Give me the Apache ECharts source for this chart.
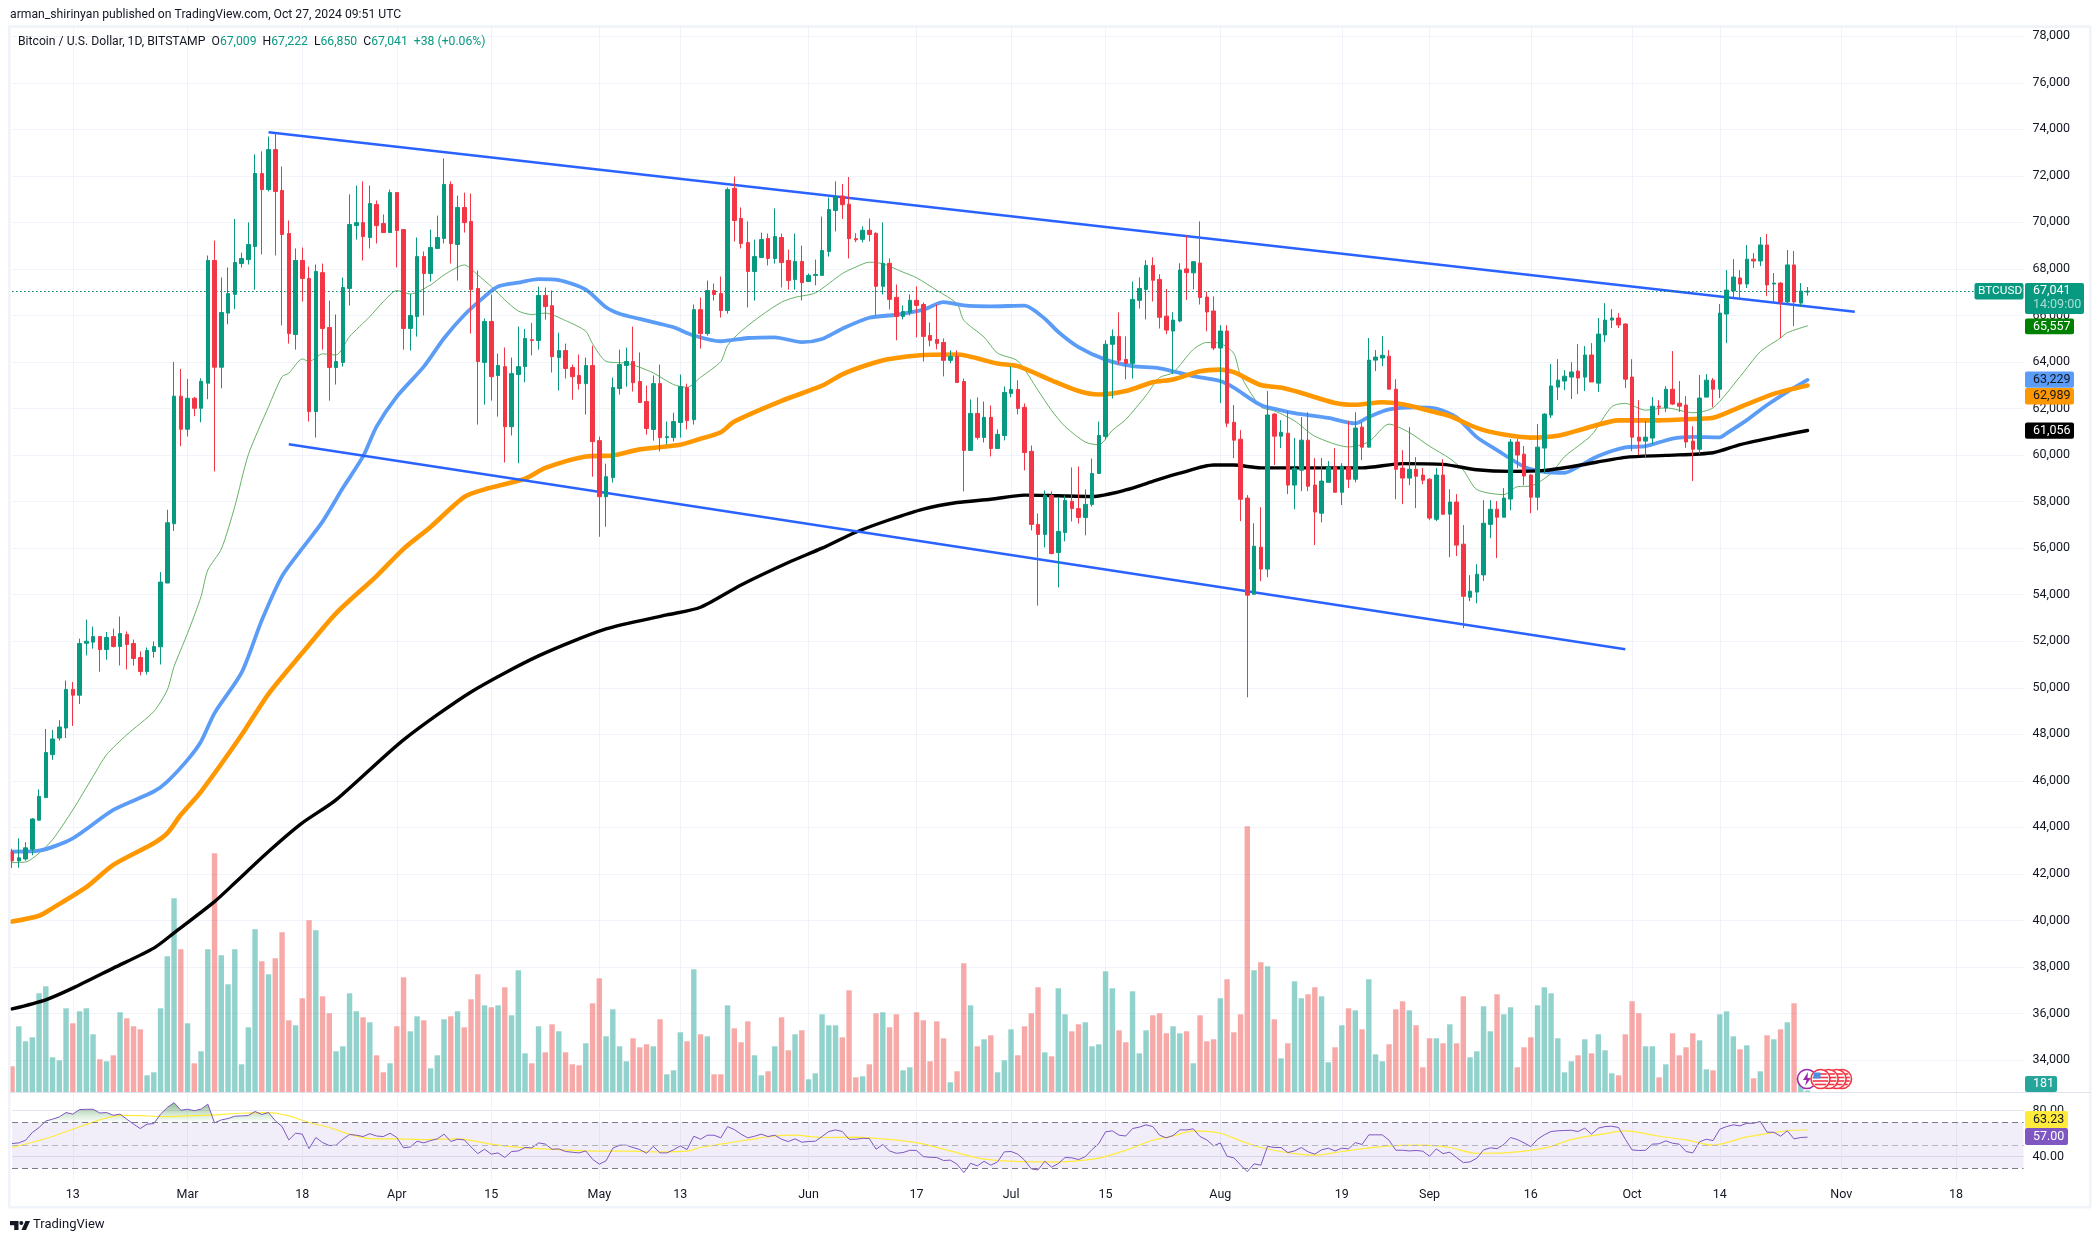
<!DOCTYPE html>
<html><head><meta charset="utf-8">
<script src="https://cdn.jsdelivr.net/npm/echarts@6/dist/echarts.min.js"></script>
<style>html,body{margin:0;padding:0;background:#fff}#c{width:2100px;height:1243px}</style>
</head><body><div id="c"></div>
<script>
// [open, close, low, high] per day, 2024-02-04 to 2024-10-27
const candles=[
[42950,42560,42250,43080],[42560,42690,42270,43530],[42640,43120,42570,43360],[43060,44360,42800,44400],[44310,45330,44300,45630],[45280,47215,45280,48230],[47125,47800,46900,48190],[47840,48310,47730,48610],[48270,49930,47840,50310],[49930,49680,48360,50250],[49680,51900,49300,52110],[51910,52000,51390,52930],[51960,52200,51680,52630],[52200,51640,50690,52220],[51640,52160,51210,52400],[52200,51770,51730,52540],[51770,52330,50960,53060],[52290,51860,50790,52420],[51900,51260,50950,52070],[51300,50700,50530,51560],[50700,51600,50570,51730],[51560,51770,51290,51990],[51760,54540,51000,54970],[54500,57090,54500,57650],[57050,62530,56740,64000],[62530,61110,60380,63700],
[61110,62440,60800,63270],[62440,62010,61670,62500],[62010,63170,61410,63300],[63090,68360,62400,68575],[68360,63775,59300,69220],[63775,66125,62870,67630],[66100,66940,65620,68060],[66910,68275,66270,70150],[68230,68450,68060,68700],[68400,69050,68190,70000],[68960,72100,67110,72920],[72100,71410,68620,73050],[71410,73130,71330,73690],[73130,71330,68575,73830],[71370,69480,65570,72400],[69520,65220,64790,70080],[65180,68360,64530,68880],[68360,67590,66600,68920],[67590,61870,61440,68100],[61870,67890,60750,68190],[67840,65440,64530,68230],[65480,63760,62340,66640],[63760,64020,63030,66040],[63980,67200,63800,67630],[67160,69910,66430,71200],[69860,69990,69260,71580],[69990,69390,68360,71760],[69350,70810,68880,71580],[70770,69860,69090,70940],[69950,69560,69560,70340],[69560,71280,69560,71410],
[71280,69650,68060,71300],[69690,65440,64530,69690],[65440,66000,64490,66930],[65950,68530,65090,69350],[68530,67800,66000,68750],[67800,68920,67460,69690],[68880,69350,68880,70290],[69310,71630,69090,72750],[71630,69090,68230,71760],[69050,70640,67500,71150],[70640,69990,69560,71280],[70040,67110,65220,71240],[67160,64020,61310,67930],[63980,65740,62170,65870],[65740,63370,62340,66900],[63420,63850,61650,64360],[63800,61220,59680,64620],[61220,63500,60840,64190],[63460,63800,59650,65520],[63800,65010,63130,65420],[64960,64920,64280,65680],[64920,66860,64530,67240],[66860,66380,65820,67200],[66420,64230,63550,67070],[64190,64490,62770,65260],[64490,63720,63290,64790],[63760,63370,62380,63890],[63420,63070,62810,64320],[63070,63850,61740,64190],[63850,60580,59070,64700],
[60620,58210,56490,60790],[58210,59070,56920,59630],[59030,62900,58820,63330],[62860,63890,62600,64530],[63850,64020,62940,64620],[64020,63110,62730,65520],[63160,62260,62260,64410],[62300,61140,60880,62990],[61100,63070,60620,63420],[63070,60750,60150,63890],[60750,60790,60450,61440],[60750,61440,60580,61820],[61400,62940,60750,63460],[62900,61480,61100,63070],[61520,66250,61310,66470],[66250,65220,64580,66770],[65220,67070,65130,67500],[67070,66900,66640,67370],[66940,66210,65910,67670],[66210,71410,66080,71500],[71460,70080,69180,71970],[70170,69090,68880,70640],[69130,67890,66340,70040],[67890,68530,66640,69260],[68490,69260,68490,69560],[69310,68450,68150,69520],[68450,69390,68230,70600],[69350,68270,67200,69520],[68360,67500,67110,68830],[67540,68320,67110,69520],[68320,67410,66640,69000],
[67460,67720,67460,67800],[67720,67760,67290,68400],[67720,68790,67720,70250],[68750,70550,68530,71070],[70510,71110,69610,71760],[71130,70760,70150,71650],[70780,69300,68450,71950],[69300,69250,69150,69530],[69270,69660,69140,69830],[69660,69480,69180,70170],[69530,67250,66000,69570],[67250,68240,66900,70000],[68240,66690,66260,68450],[66780,65960,64930,67330],[65960,66170,65830,66430],[66130,66650,66000,66900],[66650,66430,65060,67250],[66470,65100,64020,66560],[65140,64930,64670,65700],[64970,64800,64540,66470],[64840,64070,63380,65010],[64070,64240,63940,64500],[64240,63120,63120,64500],[63160,60200,58440,63290],[60200,61790,60200,62390],[61790,60760,60670,62480],[60760,61620,60540,62300],[61620,60280,59940,62130],[60280,60890,60280,61100],[60840,62690,60630,62950],
[62650,62820,62480,63810],[62820,62000,61750,63210],[62050,60110,59340,62220],[60160,57020,56760,60410],[57020,56590,53530,57490],[56590,58260,56030,58480],[58260,55770,55730,58440],[55810,56720,54310,58180],[56670,58050,56290,58260],[58010,57700,57150,59470],[57700,57320,57060,59510],[57320,57880,56550,58520],[57880,59210,57790,59850],[59210,60840,59210,61440],[60800,64760,60670,64930],[64760,65100,62430,65400],[65100,64070,63900,66130],[64110,63940,63250,65100],[63940,66690,63290,67460],[66650,67160,66300,67640],[67120,68150,65830,68370],[68150,67510,66600,68500],[67550,65920,65440,67770],[65970,65370,65200,67140],[65330,65800,63480,66140],[65760,67950,65710,68245],[68000,67840,66670,69430],[67830,68310,67120,68320],[68250,66770,66470,70040],[66790,66150,65320,67020],[66190,64600,64510,66820],
[64600,65330,62230,65580],[65330,61370,61200,65580],[61410,60640,59870,62150],[60680,58100,57160,61070],[58150,53980,49590,58280],[54020,56080,54000,57070],[56040,55100,54580,57760],[55100,61720,54750,62750],[61760,60810,59570,61800],[60810,60980,60300,61500],[60940,58710,58320,61890],[58710,59420,57670,60730],[59350,60640,58450,61630],[60640,58660,58450,61840],[58710,57550,56130,59870],[57500,58880,57110,59870],[58830,59490,58830,59740],[59490,58400,58400,60300],[58400,59520,57850,59650],[59490,58960,58580,61460],[58960,61160,58830,61840],[61200,60340,59780,61420],[60340,64080,60340,65030],[64080,64210,63610,64510],[64170,64290,63820,65110],[64250,62830,62830,64510],[62830,59390,58100,63260],[59440,59010,57890,60210],[59010,59390,58710,61200],[59390,59090,57720,59910],[59140,58920,58750,59440],
[58960,57290,57200,59010],[57240,59140,57160,59440],[59140,57460,57420,59820],[57460,57980,55610,58530],[57980,56130,55660,58320],[56170,53930,52560,56990],[53890,54150,53720,54840],[54110,54880,53630,55310],[54850,57070,54590,58060],[57020,57670,56430,58060],[57670,57330,55570,58020],[57330,58150,57330,58580],[58110,60560,57630,60690],[60560,60000,59440,60690],[60040,59100,58710,60390],[59140,58190,57500,59180],[58190,60340,57630,61330],[60300,61760,59200,61800],[61720,62970,61590,63910],[62920,63220,62360,64120],[63180,63390,62790,63650],[63350,63570,62410,63990],[63610,63310,62620,64770],[63350,64300,62750,64680],[64300,63140,63140,64810],[63090,65200,62710,65890],[65160,65800,64860,66530],[65800,65890,65460,66270],[65890,65590,65460,66100],[65630,63260,62880,65670],
[63350,60770,60170,64120],[60770,60600,60000,62360],[60600,60770,59870,61460],[60730,62100,60470,62490],[62100,62060,61720,62360],[62020,62830,61850,62960],[62830,62190,62150,64470],[62230,62100,61850,63180],[62150,60560,60310,62530],[60600,60250,58880,61240],[60250,62450,60040,63440],[62490,63220,62490,63480],[63220,62830,62060,63310],[62830,66100,62450,66490],[66060,67090,64810,67950],[67050,67650,66750,68420],[67610,67350,66660,67950],[67350,68420,67180,69030],[68420,68340,68040,68680],[68340,69030,68120,69370],[69030,67310,66830,69500],[67350,67390,66580,67820],[67390,66580,65030,67430],[66580,68170,66490,68810],[68170,66580,65540,68770],[66530,67050,66360,67390],[67009,67041,66850,67222]
];
const volumes=[
2600,6600,5100,5500,9900,10600,3500,3200,8400,6900,8100,8400,5800,3300,3100,3700,8000,7400,6600,6300,1700,2000,8400,13600,19400,14300,
6900,2900,4100,14300,23900,13700,10800,14300,2800,6500,16300,13100,11800,13400,16000,7200,6700,9400,17200,16200,9600,7900,4100,4600,9900,8100,7500,7000,3700,2000,2900,
6600,11500,6100,7600,7200,2400,3700,7300,7600,8100,6500,9300,11800,8700,8500,8700,10500,7700,12200,3900,2900,6600,4000,6800,6100,4000,2800,2700,4900,8900,
11400,5600,8300,4600,3100,5400,4500,4800,4600,7300,1800,2200,6000,5100,12300,5800,5600,1800,1800,8700,6400,5000,7100,3700,1700,2100,4600,7500,4200,5800,6200,
1300,1900,7800,6700,6700,5500,10200,1500,1600,2800,7900,8000,6500,7800,2200,2500,8000,7200,3100,7100,5400,1000,2100,12900,8700,4600,5300,5700,2000,3200,
6300,3700,6600,7900,10500,4000,3600,10400,7800,6100,6800,7000,4600,4800,12100,10400,6200,5000,10100,3900,6200,7700,7900,5900,6600,5900,6100,2900,7700,5100,5300,
9400,11300,6000,7800,26600,12200,13000,12600,7300,3400,4900,11100,9400,9800,10500,9600,3000,4500,6700,8400,8200,6300,11300,3800,3100,4800,8300,9100,8200,6700,2500,
5400,5400,4900,6800,4900,9600,3500,4100,8600,6100,9800,7800,8500,2500,4500,5500,8700,10500,9900,5400,2000,3100,3700,5300,3900,5800,4200,1900,1700,5800,
9100,7900,4600,4600,1500,2800,5900,3700,4500,5900,5200,2300,2200,7800,8100,5600,4300,4700,1400,2100,5700,5300,6300,7000,8900,1200,181
];
// moving-average readings: [day index, price]
const ma20=[[0,42490],[2,42510],[4,42890],[6,43470],[9,44750],[12,46190],[14,47120],[17,47980],[21,48980],[23,49910],[24,50910],[26,52340],[28,53920],[29,55060],[31,55960],[33,57790],[35,60010],[38,62080],[40,63370],[41,63520],[43,64130],[44,64020],[46,64350],[48,64300],[50,65090],[53,65950],[55,66590],[57,67070],[59,66920],[62,67310],[64,67740],[67,68170],[69,67740],[71,67240],[73,66670],[75,66190],[77,66040],[79,66100],[82,65780],[85,65320],[86,64780],[88,64030],[91,63950],[93,63770],[95,63530],[98,63030],[100,62910],[102,63340],[105,64020],[106,64710],[108,65320],[111,66000],[114,66570],[116,66780],[119,66970],[123,67800],[125,68080],[127,68290],[129,68220],[132,67860],[134,67620],[137,67080],[140,66500],[141,65790],[144,65070],[146,64380],[149,64040],[152,62780],[154,61920],[156,61230],[159,60560],[161,60440],[163,61060],[165,61530],[168,62560],[170,63330],[172,63540],[175,64540],[177,64840],[179,64800],[181,64370],[182,63430],[185,62070],[187,61900],[190,61470],[193,60810],[198,60350],[201,60570],[204,61330],[207,60970],[210,60380],[213,59850],[215,59350],[217,58520],[221,58300],[223,58640],[225,58670],[228,59210],[230,59930],[234,60860],[237,62080],[239,62220],[242,61930],[245,62030],[249,61820],[252,62030],[256,63370],[259,64440],[262,65030],[263,65260],[266,65557]];
const ma50=[[0,42960],[4,43000],[9,43530],[15,44750],[21,45540],[23,45970],[26,46900],[28,47690],[30,48910],[34,50650],[37,52900],[40,54800],[43,55990],[46,57140],[49,58580],[52,59940],[54,61220],[57,62510],[61,63800],[64,65020],[67,66020],[70,66810],[72,67240],[75,67410],[78,67560],[81,67520],[85,67110],[88,66350],[90,66070],[93,65850],[96,65640],[98,65490],[101,65140],[105,64890],[109,65030],[113,65060],[117,64850],[120,64990],[123,65430],[127,65900],[131,66030],[135,66250],[138,66570],[141,66430],[145,66390],[150,66420],[153,65860],[155,65290],[158,64640],[162,64100],[166,63820],[170,63730],[175,63390],[179,63180],[181,62900],[185,62150],[189,61860],[191,61760],[195,61600],[199,61360],[201,61640],[204,61960],[208,62050],[211,62000],[214,61620],[217,60770],[220,60210],[224,59500],[227,59280],[230,59240],[232,59500],[235,59960],[239,60330],[242,60380],[246,60710],[249,60780],[253,60760],[254,60930],[257,61500],[260,62150],[263,62720],[266,63229]];
const ma100=[[0,39950],[4,40200],[6,40530],[11,41430],[15,42390],[21,43320],[23,43750],[25,44540],[28,45540],[34,47970],[38,49740],[43,51500],[48,53200],[54,54800],[58,55970],[62,56910],[67,58200],[70,58526],[76,58986],[79,59447],[85,59940],[89,59985],[93,60245],[99,60445],[102,60700],[105,60980],[107,61440],[114,62330],[120,62980],[123,63470],[127,63900],[130,64130],[135,64300],[140,64320],[146,63930],[149,63820],[154,63210],[158,62750],[161,62600],[165,62750],[169,63130],[172,63250],[176,63600],[179,63670],[181,63560],[185,63010],[188,62900],[191,62670],[196,62240],[199,62160],[203,62270],[206,62180],[210,61900],[213,61670],[217,61170],[221,60880],[225,60750],[229,60830],[233,61140],[238,61490],[243,61490],[248,61540],[252,61600],[256,62060],[261,62630],[266,62989]];
const ma200=[[0,36198],[5,36590],[9,37090],[15,37950],[21,38810],[24,39465],[30,40810],[33,41610],[38,42960],[43,44190],[48,45180],[58,47760],[68,49820],[78,51370],[88,52530],[97,53130],[102,53460],[108,54415],[115,55380],[120,56000],[125,56685],[130,57220],[135,57680],[140,57960],[145,58100],[150,58280],[155,58250],[160,58220],[165,58500],[169,58870],[173,59220],[178,59570],[181,59570],[185,59450],[193,59450],[200,59450],[206,59630],[212,59600],[217,59370],[222,59300],[227,59340],[232,59550],[239,59900],[245,59985],[252,60100],[256,60450],[262,60830],[266,61056]];
const channelUpper=[[38,73870],[273,66158]];
const channelLower=[[41,60465],[239,51656]];
const rsi=[51.4,52,54.3,61,65.4,71,72.6,74.6,78.4,77,81,81.2,81.3,78,78.4,76,77,72.6,68.3,64.5,68.3,68.8,77,82.8,87,80.4,81.3,80,81.3,85.7,69.4,72,73.2,75.2,75.5,75.8,79.3,76.7,78.4,71.2,66.2,54.6,60.4,59.6,47,56.7,52.3,49.7,50,55.2,59.3,58.7,57.5,60,58,57.5,60.4,56.7,47.7,48.5,53.5,52,54,55.5,59.6,53.2,55.2,54.6,48.5,42.7,46.5,42.2,43.3,39.3,44.5,45,48,47.7,52,51,46.5,46.8,44.5,43.9,43.3,45,37.8,33.5,36.4,47.4,50,50,48,46.2,43,49,43.3,43.3,46,49.4,46.2,57.8,55.2,58.7,58.7,56.4,66.2,63.6,59.6,56.4,57.8,59.6,57.5,58.7,55.2,53.2,55.5,52.6,53.2,53.5,57.5,61.9,63.3,61.9,55.2,55.2,56,55.8,46.5,50.6,45,43,43.6,45.6,45.4,40.1,39.5,39.3,36.7,37,33.5,26.2,34.3,32,36,32.6,35.5,44.2,44.5,42.2,37,29.4,28.5,36,30.9,34,39.3,39,37.5,40,46.2,51.4,61.6,62.5,58.7,58,64.5,65.7,67.7,66.2,58.7,56.4,58.4,63.3,63.3,64.2,57.5,54.6,49.4,52,40.4,39,32.9,27,33.8,32.6,49,48,48,43.6,45,48,44.2,42.2,46,47.4,45,47.4,46.8,52.3,50.6,59,59,59,54.3,45.6,45.6,45,45.4,44.8,40.4,46.8,42.7,43.9,39.3,34.9,35.5,38.7,45.9,47.7,47,50.6,56.7,54.9,52,48.8,55.2,59,61.9,62.5,62.8,63,61.9,64.8,59.6,64.8,66.2,66.5,65.4,55.2,45.9,45.4,45.6,50.9,51.2,53.8,51.7,50.9,44.5,43.3,52.9,55.2,54,63.9,66.2,67.7,66.8,69.1,69.1,70.6,61.3,61.3,57.8,62.5,55.5,56.7,57];
const rsiMa=[[0,48],[5,55.8],[9,63.9],[13,72],[16,76],[19,75.8],[22,74.9],[26,75.5],[30,76.4],[34,77.8],[38,78.4],[41,75.5],[44,69.7],[47,65.4],[50,59.6],[53,55.8],[57,55.5],[61,54.9],[66,55.5],[71,50.9],[76,47.7],[81,46.2],[86,44.8],[91,44.8],[96,44.2],[100,44.8],[102,48],[105,50.9],[109,54.6],[113,58],[116,58.7],[120,56.7],[125,57],[129,55.5],[134,52.3],[139,45],[143,39],[147,36.4],[152,35.5],[157,36],[161,38.7],[165,45.6],[169,54.3],[172,58],[175,62.5],[179,60.4],[182,53.8],[185,48],[190,42.7],[193,41.3],[197,44.5],[201,47.7],[205,49.7],[209,50],[213,48],[217,43],[221,43.3],[227,47.4],[231,54.9],[236,60],[239,62.5],[244,57.8],[248,54.6],[252,50],[257,57.2],[261,61],[264,63],[266,63.23]];
const tickLabels={'2024-02-13':'13','2024-03-01':'Mar','2024-03-18':'18','2024-04-01':'Apr','2024-04-15':'15','2024-05-01':'May','2024-05-13':'13','2024-06-01':'Jun','2024-06-17':'17','2024-07-01':'Jul','2024-07-15':'15','2024-08-01':'Aug','2024-08-19':'19','2024-09-01':'Sep','2024-09-16':'16','2024-10-01':'Oct','2024-10-14':'14','2024-11-01':'Nov','2024-11-18':'18'};
const categories=[];
for(let i=0;i<299;i++){categories.push(new Date(Date.UTC(2024,1,4+i)).toISOString().slice(0,10));}
const lastClose=67041;

const FONT='Roboto, "Liberation Sans", sans-serif', INK='#131722', UP='#089981', DOWN='#f23645', GRID='#f0f3fa';
const volData=volumes.map((v,i)=>({value:v,itemStyle:{color:candles[i][1]>=candles[i][0]?'rgba(38,166,154,0.5)':'rgba(239,83,80,0.5)'}}));
const hideX=(gi)=>({type:'category',gridIndex:gi,data:categories,boundaryGap:false,show:false});
const maSeries=(name,data,color,width)=>({name,type:'line',xAxisIndex:1,yAxisIndex:1,data,showSymbol:false,symbol:'none',smooth:0.25,z:3,silent:true,clip:false,lineStyle:{color,width,cap:'round',join:'round'}});
const trend=(name,data)=>({name,type:'line',xAxisIndex:1,yAxisIndex:1,data,showSymbol:false,symbol:'none',z:4,silent:true,lineStyle:{color:'#2962ff',width:2.4}});

function tag(x,y,w,h,bg,txt,tx,col,size){
  return [{type:'rect',z:100,zlevel:1,shape:{x,y,width:w,height:h,r:2},style:{fill:bg}},
          {type:'text',z:101,zlevel:1,style:{x:tx,y:y+h/2,text:txt,fill:col||'#fff',font:(size||12.5)+'px '+FONT,verticalAlign:'middle',textAlign:'left'}}];
}
const flagX=[1842,1836.6,1828.6,1820.5];
const graphics=[];
graphics.push({type:'rect',z:90,zlevel:1,shape:{x:9.3,y:26.6,width:2081,height:1180.6},style:{fill:'none',stroke:GRID,lineWidth:2.6}});
graphics.push({type:'line',z:90,zlevel:1,shape:{x1:10,y1:1092.5,x2:2090,y2:1092.5},style:{stroke:'#e0e3eb',lineWidth:1}});
graphics.push({type:'text',z:100,zlevel:1,style:{x:10,y:15,text:'arman_shirinyan published on TradingView.com, Oct 27, 2024 09:51 UTC',fill:INK,font:'12.2px '+FONT,verticalAlign:'middle'}});
graphics.push({type:'text',z:100,zlevel:1,style:{x:18,y:42,verticalAlign:'middle',font:'12.2px '+FONT,fill:INK,
  text:'{k|Bitcoin / U.S. Dollar, 1D, BITSTAMP}  {k|O}{v|67,009}  {k|H}{v|67,222}  {k|L}{v|66,850}  {k|C}{v|67,041}  {v|+38 (+0.06%)}',
  rich:{k:{fill:INK,font:'12.2px '+FONT},v:{fill:UP,font:'12.2px '+FONT}}}});
graphics.push(...tag(1974.5,283,49,16.5,UP,'BTCUSD',1978,'#fff',11.8));
graphics.push({type:'rect',z:100,zlevel:1,shape:{x:2025,y:283,width:59,height:31,r:2},style:{fill:UP}});
graphics.push({type:'text',z:101,zlevel:1,style:{x:2033,y:291,text:'67,041',fill:'#fff',font:'12.5px '+FONT,verticalAlign:'middle'}});
graphics.push({type:'text',z:101,zlevel:1,style:{x:2033,y:305,text:'14:09:00',fill:'rgba(255,255,255,0.65)',font:'12.5px '+FONT,verticalAlign:'middle'}});
graphics.push(...tag(2025,318.6,49,15.6,'#008000','65,557',2033));
graphics.push(...tag(2025,371.4,49,16.4,'#5b9cf6','63,229',2033,INK));
graphics.push(...tag(2025,388,49,16.6,'#ff9800','62,989',2033,INK));
graphics.push(...tag(2025,422.5,49,16.2,'#000','61,056',2033));
graphics.push(...tag(2025,1076,32,16,'#26a69a','181',2033));
graphics.push(...tag(2025,1111,43,17,'#ffeb3b','63.23',2033,INK));
graphics.push(...tag(2025,1128,43,17,'#7e57c2','57.00',2033));
// event markers
flagX.forEach((x,i)=>{
  const y=1079;
  graphics.push({type:'circle',z:92+i*0.1,zlevel:1,shape:{cx:x,cy:y,r:9.5},style:{fill:'#fff',stroke:'#f23645',lineWidth:1.6}});
  [-5,-1.5,2,5.5].forEach(d=>{const hw=Math.sqrt(Math.max(64-d*d,0));
    graphics.push({type:'line',z:92+i*0.1,zlevel:1,shape:{x1:x-hw,y1:y+d,x2:x+hw,y2:y+d},style:{stroke:'#f23645',lineWidth:1.6}});});
});
graphics.push({type:'rect',z:93,zlevel:1,shape:{x:1813.5,y:1072.5,width:7,height:6},style:{fill:'#4a90e2'}});
graphics.push({type:'circle',z:91,zlevel:1,shape:{cx:1807,cy:1079,r:9.5},style:{fill:'#fff',stroke:'#9c27b0',lineWidth:1.6}});
graphics.push({type:'polygon',z:91.5,zlevel:1,shape:{points:[[1808,1072],[1803,1080],[1806.5,1080],[1805,1086],[1811,1078],[1807.5,1078]]},style:{fill:'#9c27b0'}});
// logo
graphics.push({type:'polygon',z:100,zlevel:1,shape:{points:[[10,1221],[18.5,1221],[18.5,1230],[14.2,1230],[14.2,1225.2],[10,1225.2]]},style:{fill:INK}});
graphics.push({type:'circle',z:100,zlevel:1,shape:{cx:21.3,cy:1223,r:2},style:{fill:INK}});
graphics.push({type:'polygon',z:100,zlevel:1,shape:{points:[[25.5,1221],[30,1221],[26,1230],[21.5,1230]]},style:{fill:INK}});
graphics.push({type:'text',z:100,zlevel:1,style:{x:33,y:1225,text:'TradingView',fill:INK,font:'13px '+FONT,verticalAlign:'middle'}});

const option={
  animation:false,
  backgroundColor:'#fff',
  textStyle:{fontFamily:FONT},
  grid:[
    {left:12.05,width:2011.5,top:28,height:1152},
    {left:12.05,width:2011.5,top:28,height:1078.6},
    {left:12.05,width:2011.5,top:1064.7,height:138}
  ],
  xAxis:[
    {type:'category',gridIndex:0,data:categories,boundaryGap:false,
     axisLine:{show:false},axisTick:{show:false},
     axisLabel:{show:true,interval:(i,v)=>v in tickLabels,formatter:v=>tickLabels[v]||'',color:INK,fontSize:12.5,fontFamily:FONT,margin:8},
     splitLine:{show:true,interval:(i,v)=>v in tickLabels,lineStyle:{color:GRID,width:1}}},
    hideX(1),hideX(2)
  ],
  yAxis:[
    {type:'value',gridIndex:0,show:false,min:0,max:1,splitLine:{show:false}},
    {type:'value',gridIndex:1,position:'right',min:32000,max:78353,interval:2000,
     axisLine:{show:false},axisTick:{show:false},
     axisLabel:{color:INK,fontSize:12.5,fontFamily:FONT,margin:9,showMinLabel:false,showMaxLabel:false,formatter:v=>v.toLocaleString('en-US')},
     splitLine:{show:true,showMinLine:false,showMaxLine:false,lineStyle:{color:GRID,width:1}}},
    {type:'value',gridIndex:1,show:false,min:-1430,max:106430,splitLine:{show:false}},
    {type:'value',gridIndex:2,position:'right',min:0,max:120,interval:40,
     axisLine:{show:false},axisTick:{show:false},
     axisLabel:{color:INK,fontSize:12.5,fontFamily:FONT,margin:9,showMinLabel:false,showMaxLabel:false,formatter:v=>v.toFixed(2)},
     splitLine:{show:true,showMinLine:false,showMaxLine:false,lineStyle:{color:'#e6e3ee',width:1}}}
  ],
  series:[
    {name:'Volume',type:'bar',xAxisIndex:1,yAxisIndex:2,data:volData,barWidth:5.4,clip:false,z:1,silent:true},
    maSeries('MA 20',ma20,'#66b266',1),
    maSeries('MA 50',ma50,'#5b9cf6',3.8),
    maSeries('MA 100',ma100,'#ff9800',4.6),
    maSeries('MA 200',ma200,'#000000',3.4),
    trend('Channel upper',channelUpper),
    trend('Channel lower',channelLower),
    {name:'BTCUSD',type:'candlestick',xAxisIndex:1,yAxisIndex:1,data:candles,barWidth:4,clip:false,z:5,silent:true,progressive:0,
     itemStyle:{color:UP,color0:DOWN,borderColor:UP,borderColor0:DOWN,borderWidth:1},
     markLine:{silent:true,symbol:'none',label:{show:false},lineStyle:{color:'#067a66',type:[1.5,2.5],width:1.2},data:[{yAxis:lastClose}]}},
    {name:'RSI base',type:'line',xAxisIndex:2,yAxisIndex:3,stack:'over',data:rsi.map(()=>70),symbol:'none',silent:true,lineStyle:{opacity:0},z:2},
    {name:'RSI over',type:'line',xAxisIndex:2,yAxisIndex:3,stack:'over',data:rsi.map(v=>Math.max(v-70,0)),symbol:'none',silent:true,lineStyle:{opacity:0},z:2,
     areaStyle:{color:{type:'linear',x:0,y:0,x2:0,y2:1,colorStops:[{offset:0,color:'rgba(46,125,50,0.75)'},{offset:1,color:'rgba(76,175,80,0.03)'}]}}},
    {name:'RSI',type:'line',xAxisIndex:2,yAxisIndex:3,data:rsi,symbol:'none',silent:true,z:4,lineStyle:{color:'#7e57c2',width:1},
     markArea:{silent:true,itemStyle:{color:'rgba(126,87,194,0.1)'},data:[[{yAxis:70},{yAxis:30}]]},
     markLine:{silent:true,symbol:'none',label:{show:false},data:[
       {yAxis:70,lineStyle:{color:'#787b86',type:[6,4],width:1}},
       {yAxis:50,lineStyle:{color:'#b2b5be',type:[6,4],width:1}},
       {yAxis:30,lineStyle:{color:'#787b86',type:[6,4],width:1}}]}},
    {name:'RSI MA',type:'line',xAxisIndex:2,yAxisIndex:3,data:rsiMa,symbol:'none',silent:true,smooth:0.3,z:3,lineStyle:{color:'#ffeb3b',width:1.2}}
  ],
  graphic:{elements:graphics}
};
const chart=echarts.init(document.getElementById('c'),null,{renderer:'canvas',width:2100,height:1243,devicePixelRatio:1});
chart.setOption(option);
</script></body></html>
